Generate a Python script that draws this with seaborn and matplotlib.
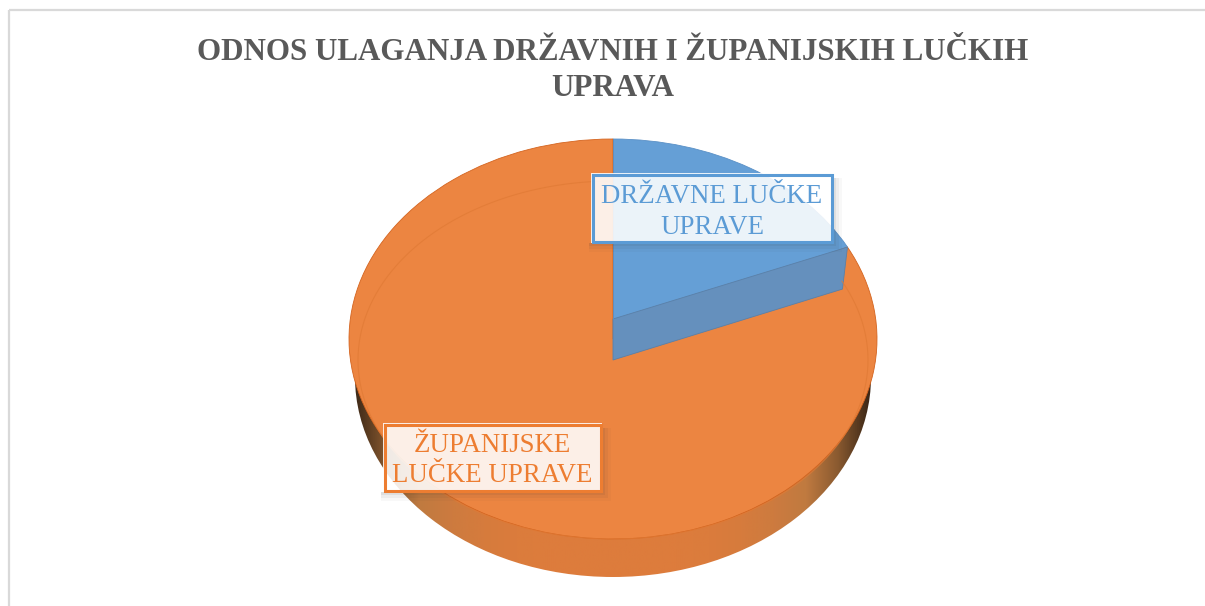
import numpy as np
import matplotlib
matplotlib.use("Agg")
import matplotlib.pyplot as plt
import seaborn as sns
from matplotlib.patches import Ellipse, Polygon, Rectangle

# udjeli ulaganja (procjena sa slike)
categories = ["DRŽAVNE LUČKE\nUPRAVE", "ŽUPANIJSKE\nLUČKE UPRAVE"]
values = [17.4, 82.6]
colors = ["#659fd6", "#ec8541"]
edges = ["#5a90c6", "#d4641f"]
text_colors = ["#5b9bd5", "#ed7d31"]
title = "ODNOS ULAGANJA DRŽAVNIH I ŽUPANIJSKIH LUČKIH\nUPRAVA"

W, H = 1205, 606
cx, cy, rx, ry = 613, 339, 264, 200

sns.set_theme(style="white")
plt.rcParams["font.family"] = ["Liberation Serif", "DejaVu Serif"]

fig = plt.figure(figsize=(W / 100, H / 100), dpi=100, facecolor="white")


def pixel_axes(z):
    a = fig.add_axes([0, 0, 1, 1], zorder=z)
    a.set_xlim(0, W)
    a.set_ylim(H, 0)
    a.axis("off")
    a.patch.set_alpha(0)
    return a


# okvir i bocna strana
bg = pixel_axes(1)
bg.add_patch(Rectangle((9, 10), W + 50, H + 50, fill=False, ec="#d9d9d9", lw=1.6))

wall_cmap = sns.blend_palette(
    ["#3f2a18", "#8a5a30", "#c07a40", "#cd7b3f", "#d67b3d", "#db7c3c", "#dd7c3c", "#dd7c3c", "#dd7c3c",
     "#dd7c3c", "#dd7c3c", "#db7c3c", "#d67b3d", "#cd7b3f", "#c07a40", "#8a5a30", "#3a2616"],
    n_colors=256,
    as_cmap=True,
)
shade = bg.imshow(
    np.linspace(0, 1, 256).reshape(1, -1),
    extent=(355, 871, 600, 300),
    cmap=wall_cmap,
    aspect="auto",
)
wall_clip = Ellipse((cx, 377), 2 * 258, 2 * 200, transform=bg.transData)
shade.set_clip_path(wall_clip)
bg.set_xlim(0, W)
bg.set_ylim(H, 0)

# gornja ploha
pie_ax = fig.add_axes(
    [(cx - rx) / W, 1 - (cy + ry) / H, 2 * rx / W, 2 * ry / H], zorder=2
)
wedges, _ = pie_ax.pie(
    values,
    colors=colors,
    startangle=90,
    counterclock=False,
    radius=1,
    wedgeprops={"linewidth": 0.6},
)
for w, e in zip(wedges, edges):
    w.set_edgecolor(e)
pie_ax.set_aspect("auto")
pie_ax.set_xlim(-1, 1)
pie_ax.set_ylim(-1, 1)
pie_ax.axis("off")

ov = pixel_axes(3)

# kut kriske racunat iz udjela
t = np.deg2rad(360 * values[0] / sum(values))
corner = (cx + rx * np.sin(t), cy - ry * np.cos(t))

# unutarnji rub
tt = np.linspace(t + 0.02, 2 * np.pi, 300)
ov.plot(cx + 255 * np.sin(tt), 360 - 179 * np.cos(tt), color="#e07a35", lw=0.8, alpha=0.7)

# stijenka plave kriske
ov.add_patch(Polygon(
    [(cx, 319), corner, (corner[0] - 5, corner[1] + 42), (cx, 360)],
    closed=True, fc="#6590bd", ec="#5a80a8", lw=0.6,
))
ov.plot([cx, cx], [139, 319], color="#5a90c6", lw=0.6)


def label_box(x0, y0, x1, y1, text, color, size, dy):
    # mekana sjena desno i dolje
    for grow, al in [(9, 0.03), (6, 0.05), (3, 0.07)]:
        ov.add_patch(Rectangle((x1, y0 + 5), grow, y1 - y0 - 5, fc="#333333", ec="none", alpha=al, zorder=4))
        ov.add_patch(Rectangle((x0 - 2, y1), x1 - x0 + 2 + grow, grow, fc="#333333", ec="none", alpha=al, zorder=4))
    ov.add_patch(Rectangle((x0, y0), x1 - x0, y1 - y0, fc="white", ec="none", alpha=0.88, zorder=5))
    ov.add_patch(Rectangle((x0 + 1.5, y0 + 1.5), x1 - x0 - 3, y1 - y0 - 3, fill=False, ec=color, lw=2.2, zorder=5.5))
    ov.text((x0 + x1) / 2, (y0 + y1) / 2 + dy, text, color=color, fontsize=size,
            ha="center", va="center", linespacing=1.27, zorder=6)


label_box(591, 173, 833, 243, categories[0], text_colors[0], 19.4, 4)
label_box(383, 423, 602, 492, categories[1], text_colors[1], 19.4, 3)

ov.text(613, 70.5, title, color="#595959", fontsize=22.3, fontweight="bold",
        ha="center", va="center", linespacing=1.32)

fig.savefig("out.png", dpi=100, facecolor="white")
